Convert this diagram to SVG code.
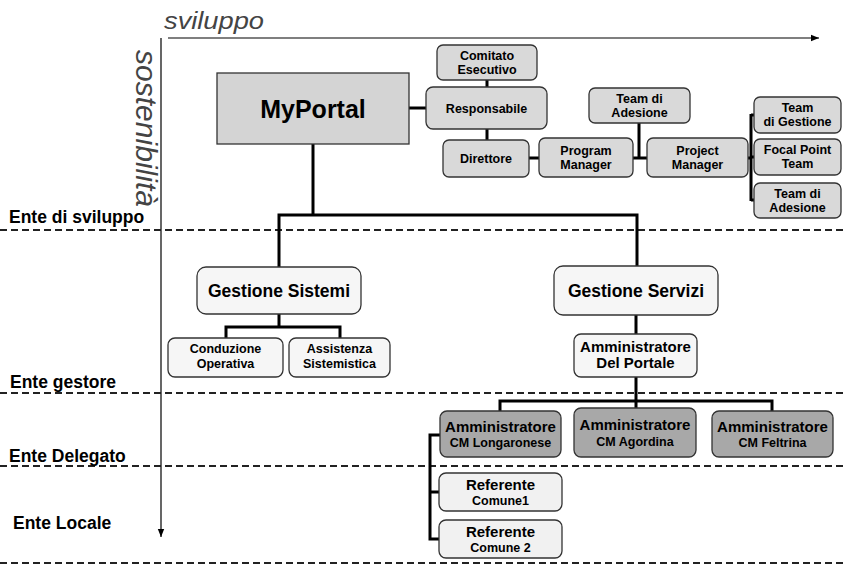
<svg xmlns="http://www.w3.org/2000/svg" width="847" height="565" viewBox="0 0 847 565">
<defs>
<marker id="arr" viewBox="0 0 10 10" refX="10" refY="5" markerWidth="8" markerHeight="8" markerUnits="userSpaceOnUse" orient="auto">
<path d="M0,1 L10,5 L0,9 Z" fill="#000"/>
</marker>
<style>
text{font-family:"Liberation Sans",Arial,sans-serif;font-weight:bold;fill:#000;text-anchor:middle}
.lbl{text-anchor:start;font-size:17.5px}
.axisT{font-weight:normal;font-style:italic;fill:#444;text-anchor:start}
.dash{stroke:#222;stroke-width:1.8;stroke-dasharray:7,4;fill:none}
.axis{stroke:#000;stroke-width:1.2;fill:none}
.con{stroke:#000;stroke-width:3;fill:none;stroke-linejoin:miter}
.b1{fill:#d9d9d9;stroke:#333;stroke-width:1.3}
.b0{fill:#d4d4d4;stroke:#333;stroke-width:1.3}
.bl{fill:#f6f6f6;stroke:#333;stroke-width:1.3}
.bd{fill:#a8a8a8;stroke:#333;stroke-width:1.3}
.bR{fill:#f1f1f1;stroke:#333;stroke-width:1.3}
.s12{font-size:12.5px}
.s15{font-size:15px}
.s17{font-size:17.5px}
</style>
</defs>
<rect width="847" height="565" fill="#fff"/>

<g id="axes">
<text class="axisT" x="164" y="29" font-size="24" textLength="100" lengthAdjust="spacingAndGlyphs">sviluppo</text>
<text class="axisT" font-size="29" transform="translate(136,50) rotate(90)" textLength="157" lengthAdjust="spacingAndGlyphs">sostenibilità</text>
<line class="axis" x1="168" y1="38" x2="819" y2="38" marker-end="url(#arr)"/>
<line class="axis" x1="161" y1="38" x2="161" y2="537" marker-end="url(#arr)"/>
</g>

<g id="levels">
<line class="dash" x1="0" y1="230" x2="847" y2="230"/>
<line class="dash" x1="0" y1="393" x2="847" y2="393"/>
<line class="dash" x1="0" y1="466" x2="847" y2="466"/>
<line class="dash" x1="0" y1="563" x2="847" y2="563"/>
<text class="lbl" x="9" y="223">Ente di sviluppo</text>
<text class="lbl" x="10" y="388">Ente gestore</text>
<text class="lbl" x="9" y="462">Ente Delegato</text>
<text class="lbl" x="13" y="529">Ente Locale</text>
</g>

<g id="connectors">
<path class="con" d="M409 108 H426"/>
<path class="con" d="M313 144 V215"/>
<path class="con" d="M279 267 V215 H637 V266"/>
<path class="con" d="M487 80 V87 M487 129 V140"/>
<path class="con" d="M529 158 H539 M633 158 H647 M639 123 V158"/>
<path class="con" d="M748 158 H751 M751 114 V201 M751 115 H754 M751 157 H754 M751 200 H754"/>
<path class="con" d="M279 314 V327 M226 338 V327 H340 V338"/>
<path class="con" d="M636 315 V334 M636 377 V408"/>
<path class="con" d="M500 411 V401 H772 V411"/>
<path class="con" d="M440 435 H430 V539 H439 M430 492 H439"/>
</g>

<g id="myportal">
<rect class="b0" x="217" y="73" width="192" height="71"/>
<text x="313" y="118" font-size="25">MyPortal</text>
</g>
<g id="comitato">
<rect class="b1" x="437" y="45" width="100" height="35" rx="6"/>
<text class="s12" x="487" y="60">Comitato</text>
<text class="s12" x="487" y="74">Esecutivo</text>
</g>
<g id="responsabile">
<rect class="b1" x="426" y="87" width="121" height="42" rx="7"/>
<text class="s12" x="486.5" y="112.5">Responsabile</text>
</g>
<g id="direttore">
<rect class="b1" x="443" y="140" width="86" height="37" rx="6"/>
<text class="s12" x="486" y="163">Direttore</text>
</g>
<g id="program-manager">
<rect class="b1" x="539" y="138" width="94" height="39" rx="6"/>
<text class="s12" x="586" y="155">Program</text>
<text class="s12" x="586" y="169">Manager</text>
</g>
<g id="team-adesione-1">
<rect class="b1" x="589" y="88" width="101" height="35" rx="6"/>
<text class="s12" x="639.5" y="103">Team di</text>
<text class="s12" x="639.5" y="117">Adesione</text>
</g>
<g id="project-manager">
<rect class="b1" x="647" y="138" width="101" height="39" rx="6"/>
<text class="s12" x="697.5" y="155">Project</text>
<text class="s12" x="697.5" y="169">Manager</text>
</g>
<g id="team-gestione">
<rect class="b1" x="754" y="97" width="87" height="36" rx="6"/>
<text class="s12" x="797.5" y="112">Team</text>
<text class="s12" x="797.5" y="126">di Gestione</text>
</g>
<g id="focal-point">
<rect class="b1" x="754" y="139" width="87" height="36" rx="6"/>
<text class="s12" x="797.5" y="154">Focal Point</text>
<text class="s12" x="797.5" y="168">Team</text>
</g>
<g id="team-adesione-2">
<rect class="b1" x="754" y="183" width="87" height="35" rx="6"/>
<text class="s12" x="797.5" y="198">Team di</text>
<text class="s12" x="797.5" y="212">Adesione</text>
</g>

<g id="gestione-sistemi">
<rect class="bl" x="197" y="267" width="164" height="47" rx="9"/>
<text class="s17" x="279" y="297">Gestione Sistemi</text>
</g>
<g id="conduzione">
<rect class="bl" x="168" y="338" width="115" height="39" rx="7"/>
<text class="s12" x="225.5" y="353">Conduzione</text>
<text class="s12" x="225.5" y="368">Operativa</text>
</g>
<g id="assistenza">
<rect class="bl" x="289" y="338" width="101" height="39" rx="7"/>
<text class="s12" x="339.5" y="353">Assistenza</text>
<text class="s12" x="339.5" y="368">Sistemistica</text>
</g>
<g id="gestione-servizi">
<rect class="bl" x="554" y="266" width="164" height="49" rx="9"/>
<text class="s17" x="636" y="297">Gestione Servizi</text>
</g>
<g id="amm-portale">
<rect class="bl" x="574" y="334" width="123" height="43" rx="7"/>
<text class="s15" x="635.5" y="352">Amministratore</text>
<text class="s15" x="635.5" y="368">Del Portale</text>
</g>
<g id="amm-longaronese">
<rect class="bd" x="440" y="411" width="121" height="46" rx="7"/>
<text class="s15" x="500.5" y="432">Amministratore</text>
<text class="s12" x="500.5" y="447">CM Longaronese</text>
</g>
<g id="amm-agordina">
<rect class="bd" x="574" y="408" width="122" height="49" rx="7"/>
<text class="s15" x="635" y="430">Amministratore</text>
<text class="s12" x="635" y="446">CM Agordina</text>
</g>
<g id="amm-feltrina">
<rect class="bd" x="712" y="411" width="121" height="46" rx="7"/>
<text class="s15" x="772.5" y="432">Amministratore</text>
<text class="s12" x="772.5" y="447">CM Feltrina</text>
</g>
<g id="referente-1">
<rect class="bR" x="439" y="473" width="123" height="38" rx="7"/>
<text class="s15" x="500.5" y="490">Referente</text>
<text class="s12" x="500.5" y="505">Comune1</text>
</g>
<g id="referente-2">
<rect class="bR" x="439" y="520" width="123" height="38" rx="7"/>
<text class="s15" x="500.5" y="537">Referente</text>
<text class="s12" x="500.5" y="552">Comune 2</text>
</g>
</svg>
